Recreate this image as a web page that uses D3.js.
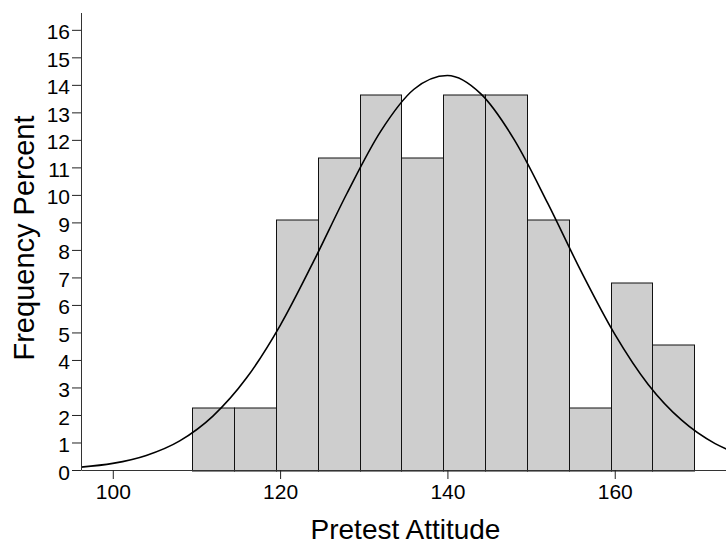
<!DOCTYPE html>
<html>
<head>
<meta charset="utf-8">
<script src="https://cdn.jsdelivr.net/npm/d3@7"></script>
<style>
  body { margin: 0; background: #fff; }
  text { font-family: "Liberation Sans", Arial, sans-serif; }
</style>
</head>
<body>
<div id="chart-container"></div>
<script>
// Histogram bins (lower / upper edges) and percent per bin
const binStart = [109.5, 114.5, 119.5, 124.5, 129.5, 134.5, 139.5, 144.5, 149.5, 154.5, 159.5, 164.5];
const binEnd = [114.5, 119.5, 124.5, 129.5, 134.5, 139.5, 144.5, 149.5, 154.5, 159.5, 164.5, 169.5];
const percent = [2.27, 2.27, 9.09, 11.36, 13.64, 11.36, 13.64, 13.64, 9.09, 2.27, 6.82, 4.55];

// Normal curve points
const curveX = [96, 100, 104, 108, 112, 116, 120, 124, 128, 132, 136, 140, 144, 148, 152, 156, 160, 164, 168, 172, 174];
const curveY = [0.10, 0.24, 0.53, 1.06, 1.97, 3.35, 5.25, 7.58, 10.06, 12.30, 13.84, 14.34, 13.67, 12.00, 9.69, 7.21, 4.94, 3.11, 1.81, 0.96, 0.68];

const xTicks = [100, 120, 140, 160];
const yTicks = [0, 1, 2, 3, 4, 5, 6, 7, 8, 9, 10, 11, 12, 13, 14, 15, 16];

// Set dimensions and margins for the chart
const margin = { top: 12.5, right: 0, bottom: 74, left: 81 };
const width = 726 - margin.left - margin.right;
const height = 544 - margin.top - margin.bottom;

const x = d3.scaleLinear().domain([96.2, 173.3]).range([0, width]);
const y = d3.scaleLinear().domain([0, 16.63]).range([height, 0]);

const svg = d3.select("#chart-container")
  .append("svg")
  .attr("width", 726)
  .attr("height", 544)
  .append("g")
  .attr("transform", `translate(${margin.left},${margin.top})`);

const bins = percent.map((p, i) => ({ x0: binStart[i], x1: binEnd[i], value: p }));

// Bars
svg.selectAll("rect.bar")
  .data(bins)
  .join("rect")
  .attr("class", "bar")
  .attr("x", d => Math.round(x(d.x0)) + 0.5)
  .attr("width", d => Math.round(x(d.x1)) - Math.round(x(d.x0)))
  .attr("y", d => Math.round(y(d.value)) + 0.5)
  .attr("height", d => Math.round(y(0)) - Math.round(y(d.value)))
  .attr("fill", "#cecece")
  .attr("stroke", "#111")
  .attr("stroke-width", 1);

// Normal curve
const curveData = curveX.map((v, i) => ({ x: v, y: curveY[i] }));
svg.append("clipPath").attr("id", "plot-clip")
  .append("rect").attr("x", 0).attr("y", 0).attr("width", width).attr("height", height);

svg.append("path")
  .datum(curveData)
  .attr("clip-path", "url(#plot-clip)")
  .attr("fill", "none")
  .attr("stroke", "#000")
  .attr("stroke-width", 1.6)
  .attr("d", d3.line()
    .x(d => x(d.x))
    .y(d => y(d.y))
    .curve(d3.curveMonotoneX));

// Axes
const xAxis = svg.append("g")
  .attr("transform", `translate(0,${height})`)
  .call(d3.axisBottom(x).tickValues(xTicks).tickSize(9).tickPadding(5).tickSizeOuter(0));
xAxis.selectAll("text").style("font-size", "21px").attr("fill", "#000");

const yAxis = svg.append("g")
  .call(d3.axisLeft(y).tickValues(yTicks).tickSize(9).tickPadding(2).tickSizeOuter(0));
yAxis.selectAll("text").style("font-size", "21px").attr("fill", "#000").attr("dy", "0.43em");

[xAxis, yAxis].forEach(g => {
  g.select(".domain").attr("stroke", "#333");
  g.selectAll(".tick line").attr("stroke", "#222");
});

// Axis titles
svg.append("text")
  .attr("x", 405.5 - margin.left)
  .attr("y", 539 - margin.top)
  .attr("text-anchor", "middle")
  .style("font-size", "28px")
  .attr("fill", "#000")
  .text("Pretest Attitude");

svg.append("text")
  .attr("transform", `translate(${33.5 - margin.left},${238 - margin.top}) rotate(-90)`)
  .attr("text-anchor", "middle")
  .style("font-size", "29px")
  .attr("fill", "#000")
  .text("Frequency Percent");
</script>
</body>
</html>
